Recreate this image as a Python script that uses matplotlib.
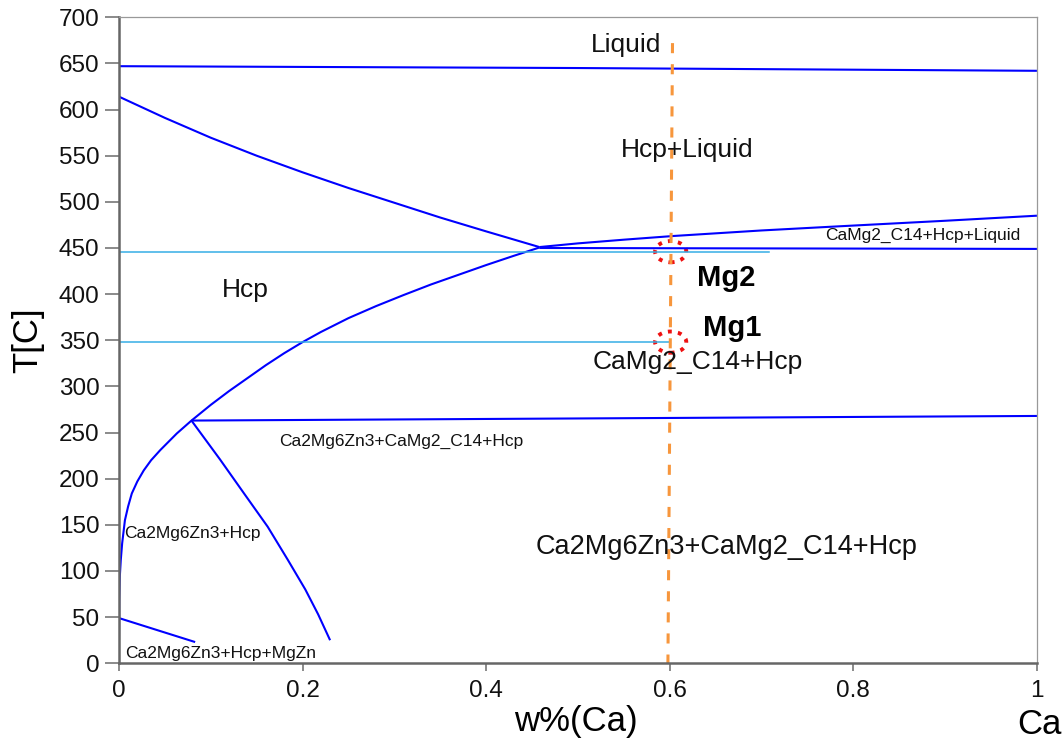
import matplotlib.pyplot as plt
from matplotlib.patches import Ellipse
import numpy as np

plt.rcParams['font.family'] = ['Liberation Sans', 'DejaVu Sans']

# phase boundaries, w%(Ca) vs T[C]
liq_top_x = [0.0, 0.5, 1.0]
liq_top_T = [647, 645, 642]

hcp_liq_x = [0.0, 0.05, 0.1, 0.15, 0.2, 0.25, 0.3, 0.35, 0.4, 0.458]
hcp_liq_T = [614, 591, 569.5, 550, 532, 515, 499, 483, 468, 451]

c14_liq_x = [0.458, 0.5, 0.55, 0.604, 0.7, 0.775, 0.9, 1.0]
c14_liq_T = [451, 455, 459, 463, 469, 473, 479.5, 485]

eut_x = [0.458, 1.0]
eut_T = [450, 449]

solvus_x = [0.0, 0.0003, 0.001, 0.002, 0.0035, 0.0065, 0.01, 0.014, 0.02, 0.027,
            0.035, 0.045, 0.054, 0.063, 0.071, 0.079, 0.1, 0.12, 0.14, 0.16,
            0.18, 0.2, 0.22, 0.25, 0.28, 0.31, 0.34, 0.37, 0.4, 0.43, 0.458]
solvus_T = [25, 70, 95, 112, 130, 155, 170, 184, 197, 209,
            220, 231, 240, 249, 256, 263, 280, 295, 309, 323,
            336, 348, 359, 374, 387, 399, 410.5, 421, 431.5, 441.5, 450.5]

eutd_x = [0.079, 1.0]
eutd_T = [263, 268]

mgzn_x = [0.079, 0.110, 0.137, 0.162, 0.184, 0.203, 0.217, 0.230]
mgzn_T = [263, 221, 183, 148, 112, 80, 53, 25]

low_x = [0.0, 0.083]
low_T = [49, 23]

# isotherms of the two samples
iso_T = [446, 348]
iso_end = [0.708, 0.6]

# alloy composition line
comp_x = [0.603, 0.598]
comp_T = [672, 0]

sample_x = [0.601, 0.601]
sample_T = [446, 348]
sample_names = ['Mg2', 'Mg1']

fig = plt.figure(figsize=(10.63, 7.51), dpi=100)
ax = fig.add_axes([0.1119, 0.1168, 0.8636, 0.8602])

blue = '#0000ff'
for xs, ts in [(liq_top_x, liq_top_T), (hcp_liq_x, hcp_liq_T), (c14_liq_x, c14_liq_T),
               (eut_x, eut_T), (solvus_x, solvus_T), (eutd_x, eutd_T),
               (mgzn_x, mgzn_T), (low_x, low_T)]:
    ax.plot(xs, ts, color=blue, lw=1.5, solid_capstyle='butt', solid_joinstyle='round')

for t, xe in zip(iso_T, iso_end):
    ax.plot([0, xe], [t, t], color='#35aee6', lw=1.1)

ax.plot(comp_x, comp_T, color='#f7963c', lw=2.2, dashes=(3.3, 3.6))

for sx, st in zip(sample_x, sample_T):
    ax.add_patch(Ellipse((sx, st), 0.034, 23, fill=False, edgecolor='#ee1111',
                         lw=2.8, linestyle=(0, (1, 1.6))))

ax.text(0.630, 418, sample_names[0], fontsize=21, fontweight='bold', va='center')
ax.text(0.636, 363, sample_names[1], fontsize=21, fontweight='bold', va='center')

# region labels
txt = '#111111'
ax.text(0.552, 670, 'Liquid', fontsize=19, ha='center', va='center', color=txt)
ax.text(0.619, 556, 'Hcp+Liquid', fontsize=19, ha='center', va='center', color=txt)
ax.text(0.138, 404, 'Hcp', fontsize=19, ha='center', va='center', color=txt)
ax.text(0.630, 326, 'CaMg2_C14+Hcp', fontsize=19, ha='center', va='center', color=txt)
ax.text(0.662, 126, 'Ca2Mg6Zn3+CaMg2_C14+Hcp', fontsize=19.5, ha='center', va='center',
        color=txt)
ax.text(0.876, 464, 'CaMg2_C14+Hcp+Liquid', fontsize=12.5, ha='center', va='center',
        color=txt)
ax.text(0.175, 240, 'Ca2Mg6Zn3+CaMg2_C14+Hcp', fontsize=12.5, ha='left', va='center',
        color=txt)
ax.text(0.006, 141, 'Ca2Mg6Zn3+Hcp', fontsize=12.5, ha='left', va='center', color=txt)
ax.text(0.007, 11, 'Ca2Mg6Zn3+Hcp+MgZn', fontsize=12.5, ha='left', va='center', color=txt)

ax.set_xlim(0, 1)
ax.set_ylim(0, 700)
ax.set_xticks(np.arange(0, 1.01, 0.2))
ax.set_xticklabels(['0', '0.2', '0.4', '0.6', '0.8', '1'])
ax.set_yticks(np.arange(0, 701, 50))
ax.tick_params(axis='y', direction='out', length=10, width=1.2, color='#777777',
               labelsize=17.5, pad=4, labelcolor=txt)
ax.tick_params(axis='x', direction='out', length=6, width=1.2, color='#777777',
               labelsize=17.5, pad=6, labelcolor=txt)

for side in ['left', 'bottom']:
    ax.spines[side].set_color('#666666')
    ax.spines[side].set_linewidth(1.8)
for side in ['top', 'right']:
    ax.spines[side].set_color('#999999')
    ax.spines[side].set_linewidth(0.9)

fig.text(576 / 1063, 1 - 722 / 751, 'w%(Ca)', fontsize=25, ha='center', va='center')
fig.text(28 / 1063, 1 - 340 / 751, 'T[C]', fontsize=25, ha='center', va='center',
         rotation=90)
fig.text(1017 / 1063, 1 - 725 / 751, 'Ca', fontsize=25, ha='left', va='center')

fig.savefig('out.png', dpi=100)
